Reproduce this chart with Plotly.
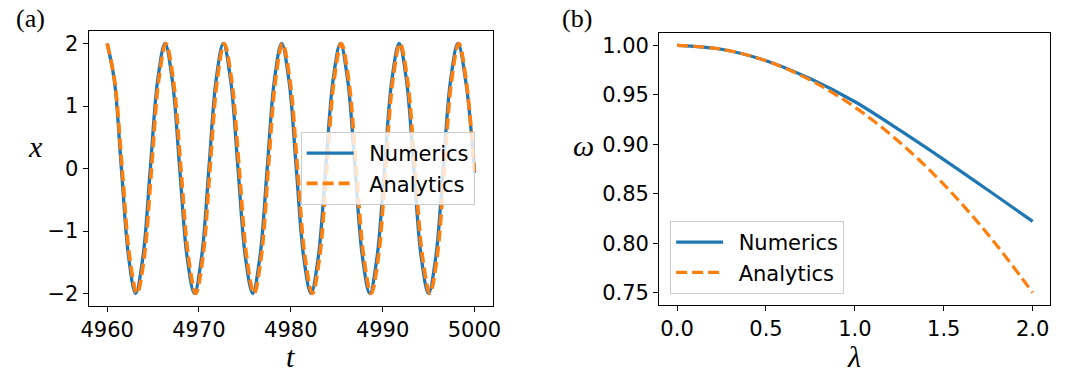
import plotly.graph_objects as go

# ---------------- panel (a): x(t) ----------------
t_num = [4960.0, 4960.78, 4961.55, 4962.33, 4963.1, 4963.9, 4964.7, 4965.5,
         4966.3, 4967.1, 4967.9, 4968.7, 4969.5, 4970.29, 4971.08, 4971.86,
         4972.65, 4973.45, 4974.25, 4975.05, 4975.85, 4976.64, 4977.43, 4978.21,
         4979.0, 4979.8, 4980.6, 4981.4, 4982.2, 4983.0, 4983.8, 4984.6,
         4985.4, 4986.2, 4987.0, 4987.8, 4988.6, 4989.4, 4990.2, 4991.0,
         4991.8, 4992.6, 4993.4, 4994.2, 4995.0, 4995.8, 4996.6, 4997.4,
         4998.2, 4999.1, 5000.0]
x_num = [2.0, 1.41, 0.0, -1.41, -2.0, -1.41, 0.0, 1.41,
         2.0, 1.41, 0.0, -1.41, -2.0, -1.41, 0.0, 1.41,
         2.0, 1.41, 0.0, -1.41, -2.0, -1.41, 0.0, 1.41,
         2.0, 1.41, 0.0, -1.41, -2.0, -1.41, 0.0, 1.41,
         2.0, 1.41, 0.0, -1.41, -2.0, -1.41, 0.0, 1.41,
         2.0, 1.41, 0.0, -1.41, -2.0, -1.41, 0.0, 1.41,
         2.0, 1.35, -0.07]

t_ana = [4960.0, 4960.81, 4961.63, 4962.44, 4963.25, 4964.04, 4964.83, 4965.61,
         4966.4, 4967.21, 4968.03, 4968.84, 4969.65, 4970.43, 4971.2, 4971.98,
         4972.75, 4973.56, 4974.38, 4975.19, 4976.0, 4976.78, 4977.55, 4978.33,
         4979.1, 4979.91, 4980.73, 4981.54, 4982.35, 4983.14, 4983.93, 4984.71,
         4985.5, 4986.31, 4987.13, 4987.94, 4988.75, 4989.54, 4990.33, 4991.11,
         4991.9, 4992.71, 4993.53, 4994.34, 4995.15, 4995.94, 4996.73, 4997.51,
         4998.3, 4999.15, 5000.0]
x_ana = [2.0, 1.41, 0.0, -1.41, -2.0, -1.41, 0.0, 1.41,
         2.0, 1.41, 0.0, -1.41, -2.0, -1.41, 0.0, 1.41,
         2.0, 1.41, 0.0, -1.41, -2.0, -1.41, 0.0, 1.41,
         2.0, 1.41, 0.0, -1.41, -2.0, -1.41, 0.0, 1.41,
         2.0, 1.41, 0.0, -1.41, -2.0, -1.41, 0.0, 1.41,
         2.0, 1.41, 0.0, -1.41, -2.0, -1.41, 0.0, 1.41,
         2.0, 1.35, -0.05]

t_ticks = [4960, 4970, 4980, 4990, 5000]
x_ticks = [-2, -1, 0, 1, 2]
x_tick_text = ["\u22122", "\u22121", "0", "1", "2"]

# ---------------- panel (b): omega(lambda) ----------------
lam = [0.0, 0.25, 0.5, 0.75, 1.0, 1.25, 1.5, 1.75, 2.0]
omega_num = [1.0, 0.9961, 0.9845, 0.9662, 0.9430, 0.9145, 0.8845, 0.8535, 0.822]
omega_ana = [1.0, 0.9961, 0.9844, 0.9648, 0.9375, 0.9023, 0.8594, 0.8086, 0.75]

lam_ticks = [0.0, 0.5, 1.0, 1.5, 2.0]
omega_ticks = [0.75, 0.80, 0.85, 0.90, 0.95, 1.00]

BLUE = "#1f77b4"
ORANGE = "#ff7f0e"
W, H = 1090, 378
PAD = "\u2002"  # en space between legend handle and label

fig = go.Figure()

fig.add_trace(go.Scatter(x=t_num, y=x_num, mode="lines", name=PAD + "Numerics",
                         line=dict(color=BLUE, width=3.3, shape="spline"),
                         xaxis="x", yaxis="y", legend="legend"))
fig.add_trace(go.Scatter(x=t_ana, y=x_ana, mode="lines", name=PAD + "Analytics",
                         line=dict(color=ORANGE, width=3.7, shape="spline",
                                   dash="11px,5px"),
                         xaxis="x", yaxis="y", legend="legend"))

fig.add_trace(go.Scatter(x=lam, y=omega_num, mode="lines", name=PAD + "Numerics",
                         line=dict(color=BLUE, width=3.2, shape="spline"),
                         xaxis="x2", yaxis="y2", legend="legend2"))
fig.add_trace(go.Scatter(x=lam, y=omega_ana, mode="lines", name=PAD + "Analytics",
                         line=dict(color=ORANGE, width=3.2, shape="spline",
                                   dash="11px,5px"),
                         xaxis="x2", yaxis="y2", legend="legend2"))

tick_font = dict(family="DejaVu Sans", size=21, color="black")
axis_common = dict(showline=True, mirror=True, linecolor="black", linewidth=1.2,
                   ticks="outside", ticklen=5, tickwidth=1.2, tickcolor="black",
                   showgrid=False, zeroline=False, tickfont=tick_font)


def px_x(p):
    return p / W


def px_y(p):
    return 1 - p / H


legend_common = dict(xanchor="left", yanchor="top",
                     bgcolor="rgba(255,255,255,0.8)", bordercolor="#cccccc",
                     borderwidth=1, itemwidth=47,
                     font=dict(family="DejaVu Sans", size=21, color="black"))

fig.update_layout(
    width=W, height=H,
    margin=dict(l=0, r=0, t=0, b=0),
    paper_bgcolor="white", plot_bgcolor="white",
    xaxis=dict(domain=[px_x(82), px_x(492)], range=[4958, 5002],
               tickvals=t_ticks, anchor="y", **axis_common),
    yaxis=dict(domain=[px_y(306), px_y(31)], range=[-2.2, 2.2],
               tickvals=x_ticks, ticktext=x_tick_text, anchor="x", **axis_common),
    xaxis2=dict(domain=[px_x(661), px_x(1058)], range=[-0.1, 2.1],
                tickvals=lam_ticks, tickformat=".1f", anchor="y2", **axis_common),
    yaxis2=dict(domain=[px_y(305), px_y(33)], range=[0.7375, 1.0125],
                tickvals=omega_ticks, tickformat=".2f", anchor="x2", **axis_common),
    legend=dict(x=px_x(297), y=px_y(132), **legend_common),
    legend2=dict(x=px_x(672), y=px_y(221), **legend_common),
    showlegend=True,
)

label_font = dict(family="Liberation Serif", size=30, color="black")
panel_font = dict(family="Liberation Serif", size=26, color="black")

annotations = [
    dict(text="(a)", x=px_x(6), y=px_y(2), xanchor="left", yanchor="top", font=panel_font),
    dict(text="(b)", x=px_x(560), y=px_y(2), xanchor="left", yanchor="top", font=panel_font),
    dict(text="<i>x</i>", x=px_x(28), y=px_y(147), xanchor="center", yanchor="middle", font=label_font),
    dict(text="<i>t</i>", x=px_x(287), y=px_y(356), xanchor="center", yanchor="middle", font=label_font),
    dict(text="<i>\u03c9</i>", x=px_x(584), y=px_y(145), xanchor="center", yanchor="middle", font=label_font),
    dict(text="<i>\u03bb</i>", x=px_x(859), y=px_y(356), xanchor="center", yanchor="middle", font=label_font),
]
for a in annotations:
    a.update(xref="paper", yref="paper", showarrow=False)
fig.update_layout(annotations=annotations)

fig.write_html("out.html")
